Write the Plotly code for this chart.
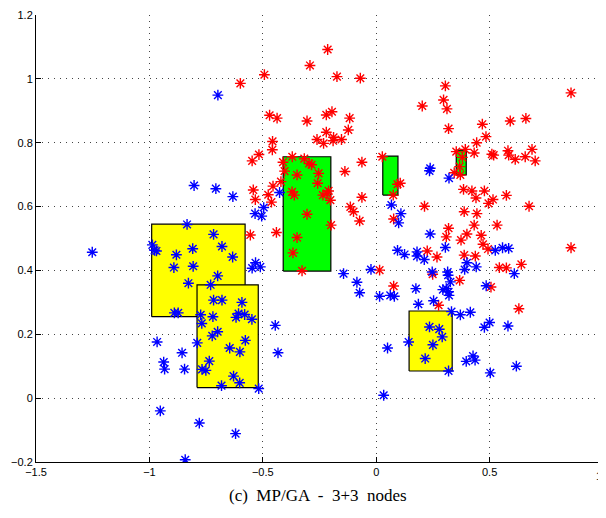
import plotly.graph_objects as go

red_x = [-0.214,-0.292,-0.493,-0.599,-0.173,-0.070,-0.470,-0.437,-0.305,-0.220,-0.195,-0.117,-0.123,-0.220,
         -0.457,-0.458,-0.261,-0.232,-0.188,-0.190,-0.153,-0.517,-0.547,-0.370,-0.317,-0.296,-0.285,-0.411,
         -0.404,-0.349,-0.254,-0.138,-0.063,-0.420,-0.455,-0.542,-0.476,-0.258,-0.371,-0.361,-0.210,-0.217,
         -0.235,-0.063,0.027,0.094,0.075,-0.533,0.305,0.297,0.203,0.312,0.859,0.591,0.660,0.468,0.319,0.484,
         0.443,0.393,0.432,0.353,0.380,0.368,0.344,0.371,0.510,0.518,0.581,0.584,0.613,0.687,0.657,0.701,
         0.385,0.422,0.477,0.440,0.515,0.574,0.106,-0.462,-0.202,-0.305,-0.199,-0.440,-0.555,-0.349,-0.367,
         -0.327,-0.114,-0.100,-0.073,0.077,0.015,0.077,0.495,0.674,0.213,0.388,0.444,0.432,0.533,0.319,0.309,
         0.400,0.463,0.374,0.471,0.493,0.225,0.268,0.388,0.437,0.543,0.574,0.640,0.249,0.368,0.506,0.275,
         0.629,0.859]
red_y = [1.092,1.042,1.013,0.986,1.007,1.002,0.886,0.877,0.868,0.887,0.897,0.877,0.840,0.833,
         0.804,0.778,0.810,0.798,0.817,0.806,0.810,0.763,0.743,0.756,0.750,0.735,0.731,0.739,
         0.711,0.699,0.704,0.710,0.739,0.678,0.664,0.652,0.637,0.673,0.646,0.636,0.649,0.641,
         0.636,0.629,0.756,0.670,0.636,0.622,0.978,0.934,0.915,0.906,0.956,0.868,0.876,0.858,0.844,0.819,
         0.800,0.779,0.768,0.772,0.754,0.725,0.706,0.699,0.764,0.761,0.775,0.761,0.748,0.779,0.756,0.743,
         0.654,0.649,0.649,0.627,0.622,0.635,0.673,0.614,0.620,0.576,0.542,0.519,0.511,0.503,0.455,
         0.399,0.599,0.584,0.555,0.561,0.401,0.351,0.610,0.601,0.601,0.584,0.578,0.542,0.542,0.532,0.505,
         0.514,0.510,0.495,0.482,0.467,0.461,0.442,0.448,0.445,0.409,0.408,0.419,0.388,0.369,0.348,0.291,
         0.280,0.471]

blue_x = [-0.698,-0.803,-0.707,-0.632,-0.426,0.235,0.238,0.321,-1.252,-0.834,-0.717,-0.680,-0.987,-0.977,
          -0.969,-0.881,-0.809,-0.892,-0.807,-0.699,-0.828,-0.730,-0.717,-0.680,-0.890,-0.873,-0.774,-0.720,
          -0.769,-0.699,-0.723,-0.966,-0.789,-0.856,-0.646,-0.937,-0.933,-0.845,-0.736,-0.768,-0.751,-0.633,
          -0.496,-0.534,-0.505,-0.532,-0.547,-0.511,-0.144,-0.023,-0.085,-0.073,0.015,0.062,0.080,0.067,0.109,
          0.099,0.094,0.125,0.180,0.180,0.175,0.186,-0.445,-0.433,0.050,0.143,-0.592,-0.607,-0.618,-0.580,
          -0.548,-0.577,-0.601,-0.629,-0.602,-0.682,-0.518,-0.952,-0.780,-0.620,-0.842,0.238,0.305,0.525,0.557,
          0.584,0.212,0.400,0.390,0.441,0.315,0.317,0.247,0.327,0.609,0.294,0.309,0.319,0.321,0.485,0.253,
          0.332,0.371,0.415,0.500,0.477,0.581,0.235,0.278,0.291,0.250,0.216,0.319,0.427,0.436,0.397,0.503,
          0.618,0.033]
blue_y = [0.949,0.666,0.656,0.631,0.644,0.712,0.720,0.689,0.457,0.544,0.513,0.475,0.480,0.463,
          0.461,0.449,0.468,0.409,0.413,0.383,0.360,0.355,0.307,0.307,0.267,0.267,0.261,0.255,
          0.234,0.208,0.195,0.176,0.173,0.142,0.157,0.113,0.091,0.091,0.116,0.090,0.087,0.442,
          0.597,0.578,0.570,0.424,0.407,0.411,0.390,0.403,0.363,0.330,0.319,0.322,0.319,0.605,0.578,
          0.549,0.463,0.450,0.458,0.445,0.343,0.294,0.228,0.142,0.157,0.176,0.300,0.265,0.253,0.262,
          0.247,0.181,0.145,0.069,0.048,0.039,0.030,-0.040,-0.078,-0.111,-0.193,0.514,0.472,0.463,0.471,
          0.469,0.434,0.424,0.403,0.411,0.395,0.385,0.395,0.364,0.390,0.340,0.343,0.333,0.322,0.352,0.305,
          0.271,0.261,0.269,0.237,0.222,0.226,0.223,0.216,0.192,0.167,0.124,0.085,0.132,0.119,0.115,0.079,
          0.100,0.009]

# rectangles: (x0, x1, y0, y1)
yellow_rects = [(-0.99, -0.578, 0.255, 0.545), (-0.79, -0.52, 0.033, 0.355), (0.145, 0.335, 0.085, 0.273)]
green_rects = [(-0.41, -0.20, 0.398, 0.756), (0.029, 0.096, 0.636, 0.758), (0.353, 0.397, 0.699, 0.777)]

x_ticks = [-1.5, -1, -0.5, 0, 0.5, 1]
x_labels = ["−1.5", "−1", "−0.5", "0", "0.5", "1"]
y_ticks = [-0.2, 0, 0.2, 0.4, 0.6, 0.8, 1, 1.2]
y_labels = ["−0.2", "0", "0.2", "0.4", "0.6", "0.8", "1", "1.2"]

tick_font = dict(family="Liberation Sans, Arial, sans-serif", size=11, color="black")

fig = go.Figure()

def add_rect(r, color):
    x0, x1, y0, y1 = r
    fig.add_trace(go.Scatter(x=[x0, x1, x1, x0, x0], y=[y0, y0, y1, y1, y0], mode="lines",
                             fill="toself", fillcolor=color, line=dict(color="black", width=1.2),
                             hoverinfo="skip", showlegend=False))

for r in yellow_rects:
    add_rect(r, "#ffff00")
for r in green_rects:
    add_rect(r, "#00ff00")

fig.add_trace(go.Scatter(x=red_x, y=red_y, mode="markers", showlegend=False,
                         marker=dict(symbol="asterisk", size=9, line=dict(color="#ff0000", width=1.4))))
fig.add_trace(go.Scatter(x=blue_x, y=blue_y, mode="markers", showlegend=False,
                         marker=dict(symbol="asterisk", size=9, line=dict(color="#0000ff", width=1.4))))

axis_common = dict(showgrid=True, gridcolor="#444444", griddash="1px,5px", gridwidth=1,
                   zeroline=False, showline=True, linecolor="black", linewidth=1,
                   ticks="inside", ticklen=5, tickcolor="black", automargin=False,
                   ticklabeloverflow="allow", tickfont=tick_font)

# the last x label sits on the figure edge; draw it as a right-anchored paper annotation
fig.update_xaxes(range=[-1.5, 1], tickvals=x_ticks, ticktext=x_labels[:-1] + [""], **axis_common)
fig.update_yaxes(range=[-0.2, 1.2], tickvals=y_ticks, ticktext=y_labels, **axis_common)
fig.add_annotation(text=x_labels[-1], x=1.0, xref="paper", y=0, yref="paper",
                   xanchor="right", yanchor="middle", yshift=-14, xshift=1, showarrow=False,
                   font=tick_font)

fig.add_annotation(text="(c)  MP/GA  -  3+3  nodes", xref="paper", yref="paper",
                   x=0.498, y=-0.0745, xanchor="center", yanchor="middle", showarrow=False,
                   font=dict(family="Liberation Serif, Times New Roman, serif", size=17, color="black"))

# page body has an 8px default margin; figure sized to fit inside the 606x518 window
fig.update_layout(width=598, height=502, margin=dict(l=28, r=3, t=7, b=48),
                  plot_bgcolor="white", paper_bgcolor="white")

fig.write_html("out.html")
